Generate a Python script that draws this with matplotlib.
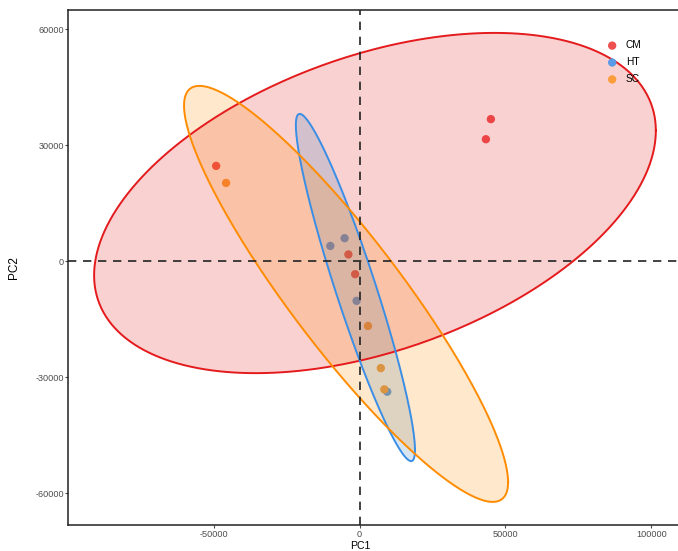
import numpy as np
import matplotlib
matplotlib.use("Agg")
import matplotlib.pyplot as plt

plt.rcParams['font.family'] = ['Liberation Sans', 'DejaVu Sans']

# sample scores
groups = ['CM', 'HT', 'SC']
pc1 = {
    'CM': [45000, 43300, -49100, -3800, -1500],
    'HT': [-10000, -5100, -1000, 9500],
    'SC': [-45700, 2900, 7300, 8500],
}
pc2 = {
    'CM': [36700, 31500, 24600, 1700, -3400],
    'HT': [3900, 5900, -10300, -33800],
    'SC': [20200, -16800, -27700, -33200],
}

# 95% ellipses: centre, half extent in x and y, correlation
ell_cx = {'CM': 5300, 'HT': -1400, 'SC': -4600}
ell_cy = {'CM': 15000, 'HT': -6850, 'SC': -8500}
ell_sx = {'CM': 96200, 'HT': 20400, 'SC': 55500}
ell_sy = {'CM': 44000, 'HT': 44900, 'SC': 53800}
ell_r = {'CM': 0.425, 'HT': -0.935, 'SC': -0.905}

line_col = {'CM': '#E41A1C', 'HT': '#3A8EE6', 'SC': '#FF8C00'}
fill_col = {'CM': '#E41A1C', 'HT': '#377EB8', 'SC': '#FF8C00'}
pt_col = {'CM': '#EE5050', 'HT': '#5A9BE6', 'SC': '#FA9D3A'}

xticks = [-50000, 0, 50000, 100000]
yticks = [-60000, -30000, 0, 30000, 60000]

fig = plt.figure(figsize=(6.78, 5.51), dpi=100)
ax = fig.add_axes([0.1003, 0.0463, 0.91, 0.9347])

for g in groups:
    ax.scatter(pc1[g], pc2[g], s=36, color=pt_col[g], edgecolors='none',
               zorder=2, label=g)

t = np.linspace(0, 2 * np.pi, 400)
for g in groups:
    r = ell_r[g]
    ex = ell_cx[g] + ell_sx[g] * np.cos(t)
    ey = ell_cy[g] + ell_sy[g] * (r * np.cos(t) + np.sqrt(1 - r ** 2) * np.sin(t))
    ax.fill(ex, ey, color=fill_col[g], alpha=0.2, lw=0, zorder=3)
    ax.plot(ex, ey, color=line_col[g], lw=1.4, zorder=4)

ax.axhline(0, color='#222222', ls=(0, (5, 4)), lw=1.2, zorder=5)
ax.axvline(0, color='#222222', ls=(0, (5, 4)), lw=1.2, zorder=5)

ax.set_xlim(-99840, 111480)
ax.set_ylim(-68400, 64800)
ax.set_xticks(xticks)
ax.set_xticklabels([str(v) for v in xticks])
ax.set_yticks(yticks)
ax.set_yticklabels([str(v) for v in yticks])
ax.tick_params(labelsize=6.6, colors='#4D4D4D', length=2.2, width=0.8, pad=0.8)

for s in ['left', 'bottom', 'top']:
    ax.spines[s].set_linewidth(1.1)
    ax.spines[s].set_color('#222222')
ax.spines['right'].set_visible(False)

ax.set_ylabel('PC2', fontsize=8.5)
ax.yaxis.set_label_coords(-0.078, 0.5)
fig.text(0.532, 0.0005, 'PC1', fontsize=7.6, ha='center', va='bottom')

leg = ax.legend(loc='upper left', bbox_to_anchor=(0.859, 0.95), frameon=False,
                fontsize=7.3, handletextpad=0.35, labelspacing=0.68,
                markerscale=1.0, borderaxespad=0)

fig.savefig('out.png', dpi=100)
